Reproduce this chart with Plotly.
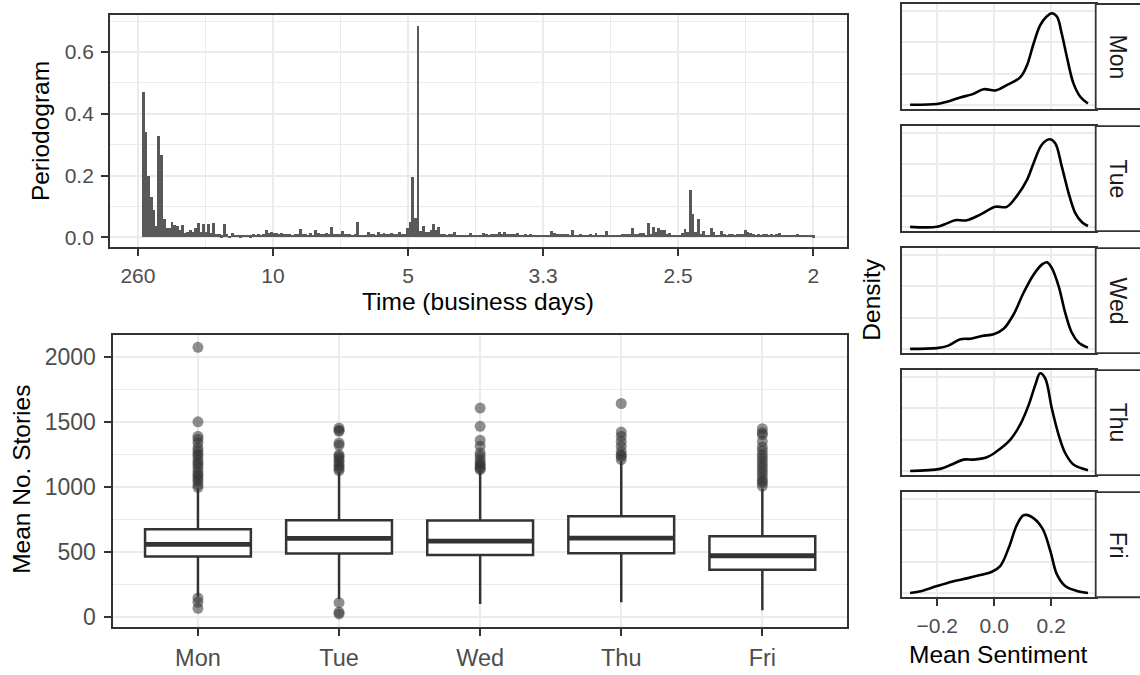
import numpy as np
import plotly.graph_objects as go

W, H = 1140, 675

# ---------------- Periodogram data ----------------
# frequency index k (freq = k/516), k = 2..258
pg_k = list(range(2, 259))
pg_values = [
    0.472, 0.34, 0.20, 0.13, 0.09, 0.035, 0.327, 0.267, 0.06, 0.03,   # k 2-11
    0.03, 0.048, 0.04, 0.038, 0.025, 0.04, 0.014, 0.018, 0.025, 0.018,  # 12-21
    0.03, 0.046, 0.016, 0.043, 0.018, 0.043, 0.014, 0.046, 0.011, 0.011,  # 22-31
    0.006, 0.043, 0.011, 0.005, 0.014, 0.008, 0.008, 0.006, 0.009, 0.007,  # 32-41
    0.008, 0.006, 0.010, 0.008, 0.012, 0.009, 0.011, 0.024, 0.014, 0.018,  # 42-51
    0.013, 0.014, 0.012, 0.013, 0.011, 0.012, 0.011, 0.009, 0.012, 0.010,  # 52-61
    0.027, 0.010, 0.012, 0.008, 0.013, 0.009, 0.024, 0.014, 0.012, 0.010,  # 62-71
    0.013, 0.011, 0.032, 0.011, 0.010, 0.010, 0.020, 0.012, 0.010, 0.011,  # 72-81
    0.009, 0.010, 0.050, 0.008, 0.007, 0.009, 0.017, 0.010, 0.011, 0.009,  # 82-91
    0.018, 0.012, 0.013, 0.011, 0.012, 0.013, 0.012, 0.011, 0.017, 0.010,  # 92-101
    0.011, 0.030, 0.050, 0.196, 0.062, 0.684, 0.020, 0.035, 0.018, 0.016,  # 102-111
    0.024, 0.043, 0.024, 0.032, 0.010, 0.011, 0.009, 0.010, 0.012, 0.016,  # 112-121
    0.008, 0.009, 0.007, 0.008, 0.009, 0.013, 0.007, 0.008, 0.007, 0.008,  # 122-131
    0.013, 0.010, 0.009, 0.010, 0.011, 0.010, 0.016, 0.010, 0.016, 0.010,  # 132-141
    0.011, 0.010, 0.012, 0.014, 0.008, 0.009, 0.010, 0.008, 0.011, 0.007,  # 142-151
    0.008, 0.007, 0.009, 0.008, 0.007, 0.008, 0.020, 0.013, 0.011, 0.010,  # 152-161
    0.011, 0.010, 0.012, 0.009, 0.023, 0.009, 0.008, 0.010, 0.009, 0.008,  # 162-171
    0.009, 0.010, 0.008, 0.014, 0.008, 0.007, 0.008, 0.020, 0.007, 0.008,  # 172-181
    0.008, 0.007, 0.009, 0.011, 0.011, 0.010, 0.012, 0.030, 0.011, 0.010,  # 182-191
    0.014, 0.014, 0.008, 0.046, 0.010, 0.033, 0.016, 0.029, 0.025, 0.024,  # 192-201
    0.010, 0.014, 0.007, 0.008, 0.008, 0.009, 0.014, 0.027, 0.016, 0.153,  # 202-211
    0.075, 0.016, 0.059, 0.010, 0.020, 0.009, 0.008, 0.030, 0.016, 0.008,  # 212-221
    0.007, 0.020, 0.010, 0.009, 0.010, 0.011, 0.009, 0.010, 0.011, 0.012,  # 222-231
    0.024, 0.018, 0.014, 0.010, 0.009, 0.010, 0.009, 0.010, 0.011, 0.009,  # 232-241
    0.010, 0.009, 0.010, 0.014, 0.008, 0.009, 0.008, 0.008, 0.007, 0.009,  # 242-251
    0.010, 0.008, 0.009, 0.008, 0.007, 0.008, 0.006,                       # 252-258
]
pg_n = 516
pg_freq = [k / pg_n for k in pg_k]
pg_tickvals = [0, 0.1, 0.2, 0.3, 0.4, 0.5]
pg_ticktext = ["260", "10", "5", "3.3", "2.5", "2"]

# ---------------- Boxplot data ----------------
days = ["Mon", "Tue", "Wed", "Thu", "Fri"]
box_q1 = [467, 490, 478, 493, 365]
box_median = [560, 606, 585, 608, 473]
box_q3 = [677, 746, 744, 777, 623]
box_low = [158, 140, 102, 115, 53]
box_high = [990, 1120, 1130, 1200, 990]
outliers = {
    "Mon": [2077, 1504, 1392, 1370, 1341, 1303, 1280, 1257, 1240, 1213, 1190, 1175,
            1150, 1124, 1100, 1086, 1065, 1047, 1020, 1000, 148, 115, 68],
    "Tue": [1456, 1440, 1431, 1341, 1323, 1250, 1239, 1220, 1200, 1180, 1162, 1145,
            1129, 112, 38, 25],
    "Wed": [1610, 1469, 1362, 1316, 1264, 1240, 1213, 1190, 1175, 1160, 1145, 1137],
    "Thu": [1645, 1425, 1392, 1354, 1316, 1277, 1250, 1239, 1213],
    "Fri": [1451, 1420, 1405, 1354, 1310, 1282, 1250, 1226, 1200, 1175, 1150, 1124,
            1100, 1073, 1050, 1034, 1009],
}

# ---------------- Density data ----------------
dens = {
    "Mon": ([-0.295, -0.201, -0.166, -0.119, -0.078, -0.037, 0.004, 0.044, 0.091, 0.115,
             0.138, 0.161, 0.184, 0.202, 0.220, 0.237, 0.255, 0.278, 0.302, 0.329],
            [0.02, 0.07, 0.21, 0.49, 0.68, 1.01, 0.93, 1.27, 1.76, 2.53,
             3.90, 5.07, 5.63, 5.84, 5.63, 4.54, 3.06, 1.38, 0.53, 0.10]),
    "Tue": ([-0.295, -0.201, -0.166, -0.137, -0.096, -0.049, 0.004, 0.044, 0.079, 0.115,
             0.138, 0.167, 0.194, 0.214, 0.237, 0.261, 0.284, 0.308, 0.329],
            [0.02, 0.02, 0.24, 0.44, 0.44, 0.80, 1.29, 1.29, 1.97, 3.01,
             4.07, 5.24, 5.59, 5.34, 3.87, 2.17, 0.91, 0.31, 0.07]),
    "Wed": ([-0.295, -0.201, -0.163, -0.119, -0.084, -0.043, -0.002, 0.033, 0.068, 0.103,
             0.138, 0.167, 0.185, 0.202, 0.226, 0.249, 0.272, 0.296, 0.329],
            [0.02, 0.07, 0.21, 0.63, 0.67, 0.84, 0.95, 1.30, 2.21, 3.59,
             4.74, 5.38, 5.53, 5.17, 4.01, 2.32, 1.06, 0.43, 0.10]),
    "Thu": ([-0.295, -0.190, -0.149, -0.108, -0.073, -0.026, 0.009, 0.056, 0.091, 0.121,
             0.144, 0.161, 0.179, 0.202, 0.226, 0.249, 0.278, 0.329],
            [0.02, 0.15, 0.43, 0.74, 0.74, 0.89, 1.27, 2.00, 2.96, 4.22,
             5.48, 6.23, 5.91, 4.01, 2.32, 1.16, 0.43, 0.07]),
    "Fri": ([-0.295, -0.254, -0.201, -0.149, -0.096, -0.049, -0.008, 0.021, 0.051, 0.080,
             0.103, 0.127, 0.168, 0.197, 0.220, 0.249, 0.290, 0.329],
            [0.02, 0.15, 0.46, 0.74, 0.95, 1.16, 1.37, 1.73, 2.89, 4.37,
             4.96, 4.90, 4.16, 2.68, 1.20, 0.46, 0.15, 0.02]),
}

# ---------------- helpers ----------------
def px(x):
    return x / W

def py(y):
    return 1 - y / H

FONT = "Liberation Sans, Arial, sans-serif"
GRID = "#EBEBEB"
BORDER = "#333333"
TICKC = "#4D4D4D"

fig = go.Figure()

# periodogram bars
fig.add_trace(go.Bar(x=pg_freq, y=pg_values, width=1.12 / pg_n,
                     marker=dict(color="#595959", line=dict(width=0)),
                     xaxis="x", yaxis="y", showlegend=False))

# boxplots
for i, d in enumerate(days):
    xi = i + 1
    fig.add_trace(go.Box(x=[xi], q1=[box_q1[i]], median=[box_median[i]], q3=[box_q3[i]],
                         lowerfence=[box_low[i]], upperfence=[box_high[i]],
                         width=0.75, whiskerwidth=0, boxpoints=False,
                         fillcolor="white", line=dict(color=BORDER, width=2.5),
                         xaxis="x2", yaxis="y2", showlegend=False, hoverinfo="skip"))
    fig.add_trace(go.Scatter(x=[xi - 0.375, xi + 0.375], y=[box_median[i]] * 2, mode="lines",
                             line=dict(color=BORDER, width=4.8), xaxis="x2", yaxis="y2",
                             showlegend=False, hoverinfo="skip"))
    fig.add_trace(go.Scatter(x=[xi] * len(outliers[d]), y=outliers[d], mode="markers",
                             marker=dict(size=11, color="rgba(51,51,51,0.55)", line=dict(width=0)),
                             xaxis="x2", yaxis="y2", showlegend=False))

# density panels
dens_tops = [4, 126.6, 249.2, 371.8, 494.4]
dens_h = 105.5
for i, d in enumerate(days):
    ax = str(i + 3)
    xs, ys = dens[d]
    fig.add_trace(go.Scatter(x=xs, y=ys, mode="lines", line=dict(color="black", width=2.6, shape="spline"),
                             xaxis="x" + ax, yaxis="y" + ax, showlegend=False))

common_axis = dict(showline=True, linecolor=BORDER, linewidth=1.8, mirror=True, zeroline=False,
                   showgrid=True, gridcolor=GRID, gridwidth=1.6,
                   tickfont=dict(family=FONT, size=21, color=TICKC),
                   ticks="outside", ticklen=7, tickwidth=1.8, tickcolor=BORDER)

layout = dict(width=W, height=H, margin=dict(l=0, r=0, t=0, b=0),
              paper_bgcolor="white", plot_bgcolor="white", bargap=0,
              font=dict(family=FONT, color="black"))

# periodogram axes
layout["xaxis"] = dict(common_axis, domain=[px(110), px(847)], range=[-0.0207, 0.525],
                       tickvals=pg_tickvals, ticktext=pg_ticktext, anchor="y",
                       minor=dict(tickvals=[0.05, 0.15, 0.25, 0.35, 0.45], showgrid=True,
                                  gridcolor=GRID, gridwidth=0.8, ticks=""),
                       ticklabelstandoff=2)
layout["yaxis"] = dict(common_axis, domain=[py(248.3), py(15)], range=[-0.0323, 0.7203],
                       tickvals=[0, 0.2, 0.4, 0.6], ticktext=["0.0", "0.2", "0.4", "0.6"], anchor="x",
                       minor=dict(tickvals=[0.1, 0.3, 0.5, 0.7], showgrid=True,
                                  gridcolor=GRID, gridwidth=0.8, ticks=""),
                       ticklabelstandoff=3)

# boxplot axes
layout["xaxis2"] = dict(common_axis, domain=[px(113.3), px(847)], range=[0.4, 5.6],
                        tickvals=[1, 2, 3, 4, 5], ticktext=days, anchor="y2",
                        tickfont=dict(family=FONT, size=23.5, color=TICKC), ticklabelstandoff=2)
layout["yaxis2"] = dict(common_axis, domain=[py(630), py(336)], range=[-77, 2176],
                        tickvals=[0, 500, 1000, 1500, 2000], anchor="x2",
                        tickfont=dict(family=FONT, size=23, color=TICKC),
                        minor=dict(tickvals=[250, 750, 1250, 1750], showgrid=True,
                                   gridcolor=GRID, gridwidth=0.8, ticks=""),
                        ticklabelstandoff=4)

for i, d in enumerate(days):
    ax = str(i + 3)
    top = dens_tops[i]
    bot = top + dens_h
    xa = dict(common_axis, domain=[px(901.7), px(1095.7)], range=[-0.3246, 0.3561],
              tickvals=[-0.2, 0, 0.2], ticktext=["\u22120.2", "0.0", "0.2"], anchor="y" + ax)
    if i < 4:
        xa.update(showticklabels=False, ticks="")
    else:
        xa.update(ticklabelstandoff=2)
    layout["xaxis" + ax] = xa
    layout["yaxis" + ax] = dict(common_axis, domain=[py(bot), py(top)], range=[-0.25, 6.43],
                                tickvals=[0, 2, 4, 6], showticklabels=False, ticks="",
                                anchor="x" + ax)

fig.update_layout(**layout)

# strips
shapes = []
annotations = []
for i, d in enumerate(days):
    top = dens_tops[i]
    bot = top + dens_h
    shapes.append(dict(type="rect", xref="paper", yref="paper", x0=px(1095.7), x1=px(1145),
                       y0=py(bot), y1=py(top), line=dict(color=BORDER, width=1.8), fillcolor="white",
                       layer="above"))
    annotations.append(dict(text=d, xref="paper", yref="paper", x=px(1118), y=py((top + bot) / 2),
                            showarrow=False, textangle=90, font=dict(family=FONT, size=23, color="#1A1A1A"),
                            xanchor="center", yanchor="middle"))

title_font = dict(family=FONT, size=24.5, color="black")
annotations += [
    dict(text="Periodogram", xref="paper", yref="paper", x=px(40), y=py(131.7), textangle=-90,
         showarrow=False, font=title_font, xanchor="center", yanchor="middle"),
    dict(text="Time (business days)", xref="paper", yref="paper", x=px(478), y=py(303),
         showarrow=False, font=title_font, xanchor="center", yanchor="middle"),
    dict(text="Mean No. Stories", xref="paper", yref="paper", x=px(22), y=py(482), textangle=-90,
         showarrow=False, font=title_font, xanchor="center", yanchor="middle"),
    dict(text="Density", xref="paper", yref="paper", x=px(872), y=py(301), textangle=-90,
         showarrow=False, font=title_font, xanchor="center", yanchor="middle"),
    dict(text="Mean Sentiment", xref="paper", yref="paper", x=px(999), y=py(657),
         showarrow=False, font=title_font, xanchor="center", yanchor="middle"),
]
fig.update_layout(shapes=shapes, annotations=annotations)

fig.write_html("out.html", config={"displayModeBar": False},
               post_script="document.body.style.margin='0px';document.body.style.overflow='hidden';")
